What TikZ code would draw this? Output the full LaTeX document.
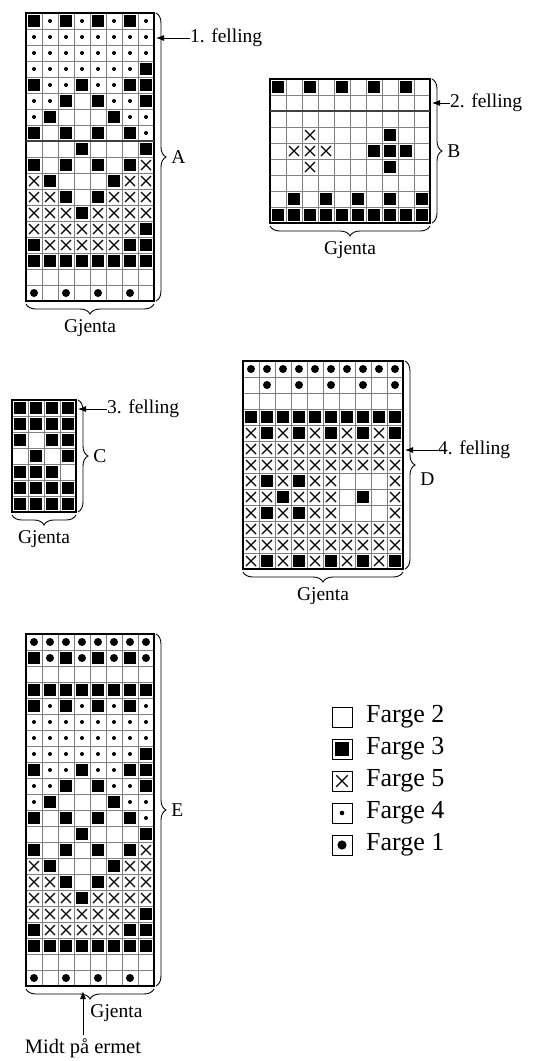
\documentclass[tikz,border=0pt]{standalone}
\usepackage{fontspec}
\setmainfont{Liberation Serif}
\usetikzlibrary{positioning,calc,arrows.meta,decorations.pathreplacing}

\tikzset{
    gitter/.style={gray, line width=0.8pt},
    ramme/.style={line width=2.5pt},
    skille/.style={black!75, line width=1.3pt},
    kryss/.style={line width=1.3pt},
    rute/.style={line width=0.8pt},
    klamme/.style={decorate, decoration={brace, amplitude=10pt}, line width=0.9pt},
    pil/.style={-{Latex[length=8pt,width=6pt]}, line width=0.9pt},
    tekst/.style={font=\fontsize{19.5}{22}\selectfont, inner sep=0pt},
    forklaring/.style={font=\fontsize{26}{30}\selectfont, inner sep=0pt},
}

\newcommand{\ruta}{16}
%Tegn i ruta: 1 = farge 3, 2 = farge 5, 3 = farge 4, 4 = farge 1
\newcommand{\tegn}[3]{%
    \ifcase#1\or
        \fill (#2-5.75,#3-5.75) rectangle ++(11.5,11.5);
    \or
        \draw[kryss] (#2-5,#3-5) -- ++(10,10) (#2-5,#3+5) -- ++(10,-10);
    \or
        \fill (#2,#3) circle (2);
    \or
        \fill (#2,#3) circle (4);
    \fi}
%Diagram: navn, x, y (oppe til venstre), masker, omganger, rader
\newcommand{\diagram}[6]{%
    \begin{scope}[shift={(#2,-#3)}]
        \foreach \x in {0,...,#4} \draw[gitter] (\x*\ruta,0) -- (\x*\ruta,-#5*\ruta);
        \foreach \y in {0,...,#5} \draw[gitter] (0,-\y*\ruta) -- (#4*\ruta,-\y*\ruta);
        \foreach[count=\y] \rad in {#6} {
            \foreach[count=\x] \s in \rad {
                \pgfmathsetmacro\mx{(\x-0.5)*\ruta}
                \pgfmathsetmacro\my{-(\y-0.5)*\ruta}
                \tegn{\s}{\mx}{\my}
            }
        }
        \draw[ramme] (0,0) rectangle (#4*\ruta,-#5*\ruta);
        \coordinate (#1-nw) at (0,0);
        \coordinate (#1-ne) at (#4*\ruta,0);
        \coordinate (#1-sw) at (0,-#5*\ruta);
        \coordinate (#1-se) at (#4*\ruta,-#5*\ruta);
    \end{scope}}

\begin{document}
\begin{tikzpicture}[x=1pt, y=1pt]
    \useasboundingbox (0,0) rectangle (546,-1061);

    %Diagram A
    \diagram{A}{26}{13}{8}{18}{{1,3,1,3,1,3,1,3},{3,3,3,3,3,3,3,3},{3,3,3,3,3,3,3,3},
        {3,3,3,3,3,3,3,1},{1,3,3,1,3,3,1,1},{3,3,1,0,1,3,3,1},{3,1,0,0,0,1,3,3},
        {1,0,1,0,1,0,1,3},{0,0,0,1,0,0,0,1},{1,0,1,0,1,0,1,2},{2,1,0,0,0,1,2,2},
        {2,2,1,0,1,2,2,2},{2,2,2,1,2,2,2,2},{2,2,2,2,2,2,2,1},{1,2,2,2,2,2,1,1},
        {1,1,1,1,1,1,1,1},{0,0,0,0,0,0,0,0},{4,0,4,0,4,0,4,0}}
    \draw[skille] ($(A-nw)+(0,-128)$) -- ($(A-ne)+(0,-128)$);
    \coordinate (A-f) at ($(A-ne)+(2,-25)$);
    \node[tekst, right=34pt of A-f] (felling1) {1. felling};
    \draw[pil] (felling1.west) -- (A-f);
    \draw[klamme] ($(A-ne)+(2,0)$) -- ($(A-se)+(2,0)$) node[tekst, midway, right=15pt] (A-merke) {A};
    \draw[klamme] ($(A-se)+(0,-3)$) -- ($(A-sw)+(0,-3)$) node[tekst, midway, below=15pt] (A-gjenta) {Gjenta};

    %Diagram B
    \diagram{B}{270}{79}{10}{9}{{1,0,1,0,1,0,1,0,1,0},{0,0,0,0,0,0,0,0,0,0},
        {0,0,0,0,0,0,0,0,0,0},{0,0,2,0,0,0,0,1,0,0},{0,2,2,2,0,0,1,1,1,0},
        {0,0,2,0,0,0,0,1,0,0},{0,0,0,0,0,0,0,0,0,0},{0,1,0,1,0,1,0,1,0,1},
        {1,1,1,1,1,1,1,1,1,1}}
    \draw[skille] ($(B-nw)+(0,-32)$) -- ($(B-ne)+(0,-32)$);
    \coordinate (B-f) at ($(B-ne)+(2,-24)$);
    \node[tekst, right=18pt of B-f] (felling2) {2. felling};
    \draw[pil] (felling2.west) -- (B-f);
    \draw[klamme] ($(B-ne)+(2,0)$) -- ($(B-se)+(2,0)$) node[tekst, midway, right=15pt] (B-merke) {B};
    \draw[klamme] ($(B-se)+(0,-3)$) -- ($(B-sw)+(0,-3)$) node[tekst, midway, below=15pt] (B-gjenta) {Gjenta};

    %Diagram C
    \diagram{C}{12}{400}{4}{7}{{1,1,1,1},{1,1,1,1},{1,0,1,1},{0,1,0,1},
        {1,1,1,0},{1,1,1,1},{1,1,1,1}}
    \coordinate (C-f) at ($(C-ne)+(2,-9)$);
    \node[tekst, right=29pt of C-f] (felling3) {3. felling};
    \draw[pil] (felling3.west) -- (C-f);
    \draw[klamme] ($(C-ne)+(2,0)$) -- ($(C-se)+(2,0)$) node[tekst, midway, right=15pt] (C-merke) {C};
    \draw[klamme] ($(C-se)+(0,-3)$) -- ($(C-sw)+(0,-3)$) node[tekst, midway, below=15pt] (C-gjenta) {Gjenta};

    %Diagram D
    \diagram{D}{243}{361}{10}{13}{{4,4,4,4,4,4,4,4,4,4},{0,4,0,4,0,4,0,4,0,4},
        {0,0,0,0,0,0,0,0,0,0},{1,1,1,1,1,1,1,1,1,1},{2,1,2,1,2,1,2,1,2,1},
        {2,2,2,2,2,2,2,2,2,2},{2,2,2,2,2,2,2,2,2,2},{2,1,2,1,2,2,0,0,0,2},
        {2,2,1,2,2,2,0,1,0,2},{2,1,2,1,2,2,0,0,0,2},{2,2,2,2,2,2,2,2,2,2},
        {2,2,2,2,2,2,2,2,2,2},{2,1,2,1,2,1,2,1,2,1}}
    \coordinate (D-f) at ($(D-ne)+(2,-89)$);
    \node[tekst, right=33pt of D-f] (felling4) {4. felling};
    \draw[pil] (felling4.west) -- (D-f);
    \draw[klamme] ($(D-ne)+(2,0)$) -- ($(D-se)+(2,0)$) node[tekst, midway, right=15pt, yshift=-14pt] (D-merke) {D};
    \draw[klamme] ($(D-se)+(0,-3)$) -- ($(D-sw)+(0,-3)$) node[tekst, midway, below=15pt] (D-gjenta) {Gjenta};

    %Diagram E
    \diagram{E}{26}{634}{8}{22}{{4,4,4,4,4,4,4,4},{1,4,1,4,1,4,1,4},{0,0,0,0,0,0,0,0},
        {1,1,1,1,1,1,1,1},{1,3,1,3,1,3,1,3},{3,3,3,3,3,3,3,3},{3,3,3,3,3,3,3,3},
        {3,3,3,3,3,3,3,1},{1,3,3,1,3,3,1,1},{3,3,1,0,1,3,3,1},{3,1,0,0,0,1,3,3},
        {1,0,1,0,1,0,1,3},{0,0,0,1,0,0,0,1},{1,0,1,0,1,0,1,2},{2,1,0,0,0,1,2,2},
        {2,2,1,0,1,2,2,2},{2,2,2,1,2,2,2,2},{2,2,2,2,2,2,2,1},{1,2,2,2,2,2,1,1},
        {1,1,1,1,1,1,1,1},{0,0,0,0,0,0,0,0},{4,0,4,0,4,0,4,0}}
    \draw[klamme] ($(E-ne)+(2,0)$) -- ($(E-se)+(2,0)$) node[tekst, midway, right=15pt] (E-merke) {E};
    \draw[klamme] ($(E-se)+(0,-3)$) -- ($(E-sw)+(0,-3)$) node[tekst, midway, below=15pt, anchor=north west] (E-gjenta) {Gjenta};
    \coordinate (E-pil) at ($(E-sw)!0.445!(E-se)+(0,-5)$);
    \node[tekst, font=\fontsize{20.5}{23}\selectfont] (midt) at ($(E-pil)+(0,-57)$) {Midt på ermet};
    \draw[pil, shorten <=3pt] (midt.north) -- (E-pil);

    %Forklaring
    \foreach \kode/\farge [count=\i] in {0/2, 1/3, 2/5, 3/4, 4/1} {
        \draw[rute] (332,-675-\i*32) rectangle ++(20,-20);
        \begin{scope}[shift={(342,-685-\i*32)}, scale=1.15]
            \tegn{\kode}{0}{0}
        \end{scope}
        \node[forklaring, anchor=west] (farge\i) at (366,-685-\i*32) {Farge \farge};
    }
\end{tikzpicture}
\end{document}
